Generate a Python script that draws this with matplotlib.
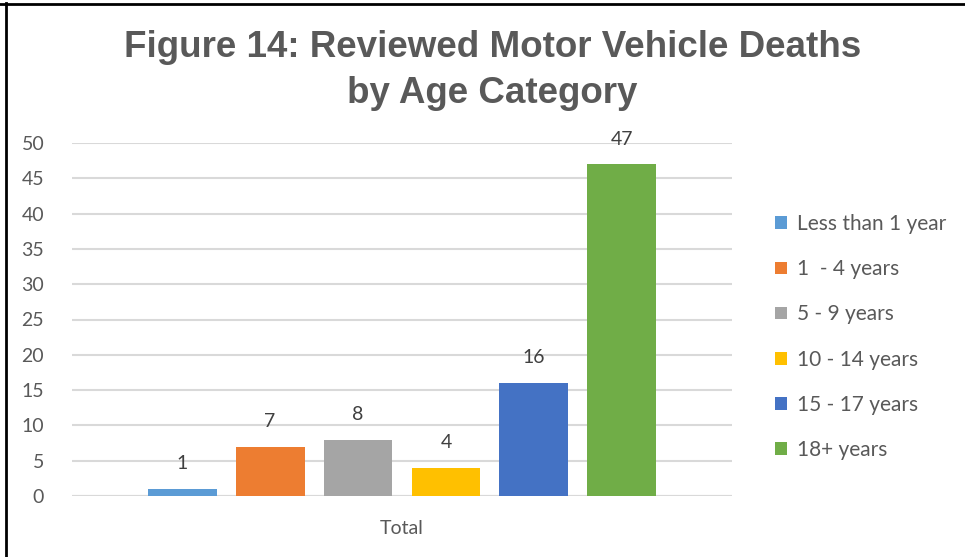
import matplotlib
matplotlib.use("Agg")
import matplotlib.pyplot as plt
from matplotlib.lines import Line2D
from matplotlib.patches import Patch

# Data
categories = ["Total"]
series_names = ["Less than 1 year", "1  - 4 years", "5 - 9 years",
                "10 - 14 years", "15 - 17 years", "18+ years"]
series_values = [1, 7, 8, 4, 16, 47]
series_colors = ["#5B9BD5", "#ED7D31", "#A5A5A5", "#FFC000", "#4472C4", "#70AD47"]
y_ticks = [0, 5, 10, 15, 20, 25, 30, 35, 40, 45, 50]

TEXT_GRAY = "#595959"
LABEL_GRAY = "#404040"
plt.rcParams["font.family"] = ["Lato", "DejaVu Sans"]

fig = plt.figure(figsize=(9.65, 5.57), dpi=100)
ax = fig.add_axes([72 / 965, 61 / 557, 660 / 965, 353 / 557])

bar_w = 0.1045
step = 0.1333
n = len(series_values)
for i, (name, val, col) in enumerate(zip(series_names, series_values, series_colors)):
    x = (i - (n - 1) / 2) * step
    ax.bar(x, val, width=bar_w, color=col, label=name, zorder=3)
    ax.annotate(str(val), (x, val), xytext=(0, 12), textcoords="offset points",
                ha="center", va="bottom", fontsize=14, color=LABEL_GRAY)

ax.set_xlim(-0.5, 0.5)
ax.set_ylim(0, 50)
ax.set_yticks(y_ticks)
ax.set_xticks([0])
ax.set_xticklabels(categories)
ax.tick_params(axis="both", length=0, labelsize=14, labelcolor=TEXT_GRAY)
ax.tick_params(axis="y", pad=20)
ax.tick_params(axis="x", pad=17)
ax.grid(axis="y", color="#D9D9D9", linewidth=1.5, zorder=0)
for s in ax.spines.values():
    s.set_visible(False)
ax.axhline(0, color="#D9D9D9", linewidth=1.5, zorder=2)

# title
fig.text(0.51, 0.874, "Figure 14: Reviewed Motor Vehicle Deaths\nby Age Category",
         ha="center", va="center", fontsize=26.5, fontweight="bold", color=TEXT_GRAY,
         family=["Liberation Sans", "DejaVu Sans"], linespacing=1.42)

# legend
handles = [Patch(facecolor=c, edgecolor="none") for c in series_colors]
fig.legend(handles, series_names, loc="center left", bbox_to_anchor=(765 / 965, 1 - 337 / 557),
           frameon=False, fontsize=15, labelcolor=TEXT_GRAY, handlelength=0.55,
           handleheight=0.55, handletextpad=0.5, labelspacing=1.21, borderpad=0)

# black border on top and left edges
fig.add_artist(Line2D([0, 1], [1 - 4 / 557, 1 - 4 / 557], color="black", linewidth=2))
fig.add_artist(Line2D([6 / 965, 6 / 965], [0, 1 - 3 / 557], color="black", linewidth=2))

fig.savefig("out.png", dpi=100)
